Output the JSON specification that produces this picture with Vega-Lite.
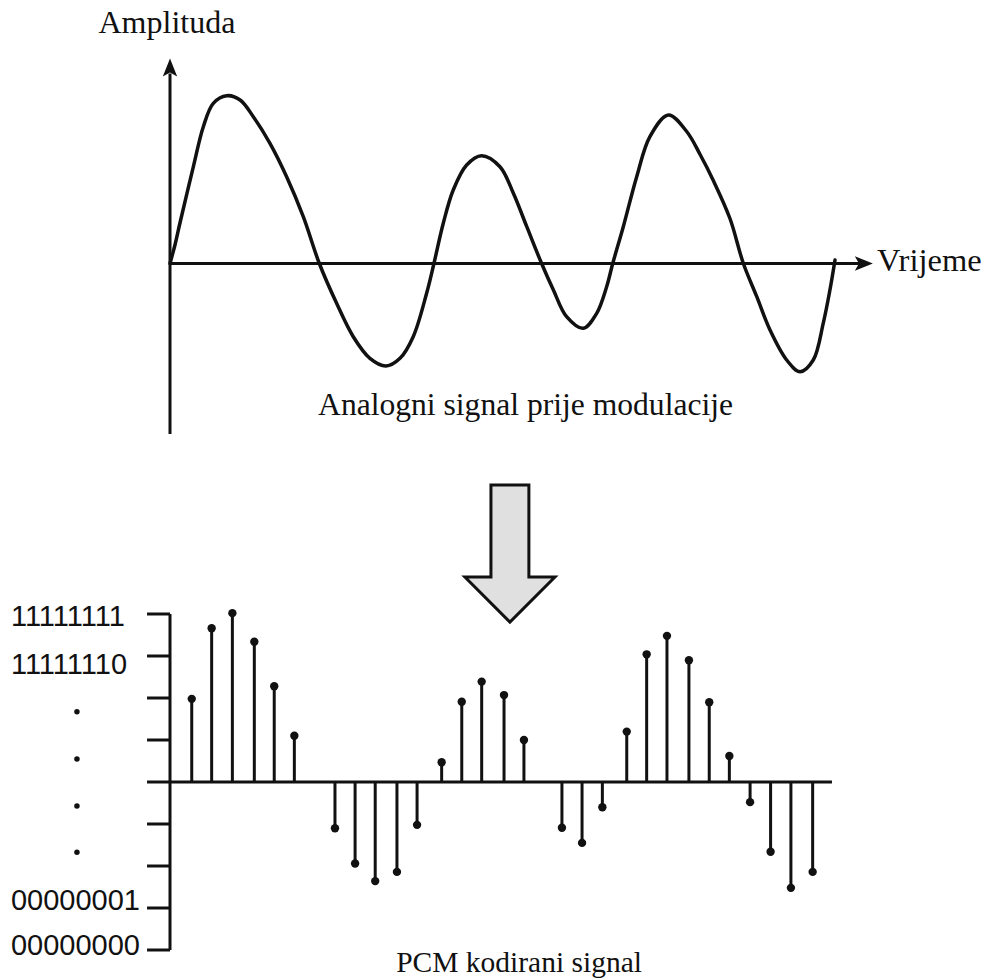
{
  "$schema": "https://vega.github.io/schema/vega-lite/v6.json",
  "autosize": {"type": "none"},
  "padding": {"left": 170, "top": 58, "right": 109, "bottom": 29},
  "width": 703,
  "height": 892,
  "background": "white",
  "config": {"view": {"stroke": null}},
  "datasets": {
    "analog": [
      {"t": 0, "a": 0}, {"t": 0.25, "a": 0.19}, {"t": 0.49, "a": 0.405}, {"t": 1.15, "a": 0.968}, {"t": 1.64, "a": 1.368},
      {"t": 2.13, "a": 1.602}, {"t": 2.79, "a": 1.678}, {"t": 3.45, "a": 1.635}, {"t": 4.10, "a": 1.468},
      {"t": 4.92, "a": 1.202}, {"t": 5.74, "a": 0.868}, {"t": 6.56, "a": 0.468}, {"t": 7.35, "a": 0},
      {"t": 8.20, "a": -0.398}, {"t": 9.02, "a": -0.732}, {"t": 9.84, "a": -0.948}, {"t": 10.63, "a": -1.025},
      {"t": 11.32, "a": -0.948}, {"t": 11.97, "a": -0.732}, {"t": 12.63, "a": -0.298}, {"t": 12.99, "a": 0},
      {"t": 13.45, "a": 0.402}, {"t": 13.94, "a": 0.735}, {"t": 14.60, "a": 0.985}, {"t": 15.33, "a": 1.078},
      {"t": 16.24, "a": 0.968}, {"t": 16.90, "a": 0.702}, {"t": 17.56, "a": 0.368}, {"t": 18.29, "a": 0},
      {"t": 18.87, "a": -0.265}, {"t": 19.52, "a": -0.532}, {"t": 20.34, "a": -0.648}, {"t": 21.00, "a": -0.498},
      {"t": 21.49, "a": -0.232}, {"t": 21.79, "a": 0}, {"t": 22.31, "a": 0.368}, {"t": 22.97, "a": 0.868},
      {"t": 23.62, "a": 1.268}, {"t": 24.53, "a": 1.485}, {"t": 25.43, "a": 1.32}, {"t": 26.09, "a": 1.09},
      {"t": 26.74, "a": 0.83}, {"t": 27.56, "a": 0.45}, {"t": 28.22, "a": 0}, {"t": 28.88, "a": -0.332},
      {"t": 29.53, "a": -0.665}, {"t": 30.35, "a": -0.965}, {"t": 31.01, "a": -1.082}, {"t": 31.66, "a": -0.965},
      {"t": 32.15, "a": -0.598}, {"t": 32.48, "a": -0.265}, {"t": 32.73, "a": 0.035}
    ],
    "pcm": [
      {"t": 1.07, "v": 1.98}, {"t": 2.05, "v": 3.66}, {"t": 3.07, "v": 4.02}, {"t": 4.15, "v": 3.34},
      {"t": 5.13, "v": 2.28}, {"t": 6.12, "v": 1.10}, {"t": 8.12, "v": -1.10}, {"t": 9.11, "v": -1.94},
      {"t": 10.10, "v": -2.36}, {"t": 11.17, "v": -2.14}, {"t": 12.16, "v": -1.02}, {"t": 13.37, "v": 0.47},
      {"t": 14.36, "v": 1.91}, {"t": 15.34, "v": 2.39}, {"t": 16.44, "v": 2.07}, {"t": 17.42, "v": 1.00},
      {"t": 19.29, "v": -1.09}, {"t": 20.28, "v": -1.45}, {"t": 21.28, "v": -0.60}, {"t": 22.48, "v": 1.20},
      {"t": 23.46, "v": 3.04}, {"t": 24.46, "v": 3.48}, {"t": 25.54, "v": 2.90}, {"t": 26.54, "v": 1.90},
      {"t": 27.53, "v": 0.62}, {"t": 28.55, "v": -0.48}, {"t": 29.56, "v": -1.66}, {"t": 30.56, "v": -2.52},
      {"t": 31.63, "v": -2.14}
    ],
    "ticks": [
      {"v": 4}, {"v": 3}, {"v": 2}, {"v": 1}, {"v": 0}, {"v": -1}, {"v": -2}, {"v": -3}, {"v": -4}
    ],
    "labels": [
      {"v": 3.92, "label": "11111111"},
      {"v": 2.78, "label": "11111110"},
      {"v": -2.83, "label": "00000001"},
      {"v": -3.9, "label": "00000000"}
    ],
    "dots": [
      {"v": 1.67}, {"v": 0.55}, {"v": -0.57}, {"v": -1.67}
    ],
    "one": [{}]
  },
  "resolve": {"scale": {"y": "independent"}},
  "layer": [
    {
      "layer": [
        {
          "data": {"name": "analog"},
          "mark": {"type": "line", "interpolate": "catmull-rom", "stroke": "#111", "strokeWidth": 3.5, "strokeCap": "round"},
          "encoding": {
            "x": {"field": "t", "type": "quantitative", "scale": {"domain": [0, 34.6], "nice": false, "zero": false}, "axis": null},
            "y": {"field": "a", "type": "quantitative", "scale": {"domain": [-6.865, 2.055], "nice": false, "zero": false}, "axis": null}
          }
        },
        {
          "data": {"name": "one"},
          "mark": {"type": "rule", "stroke": "#111", "strokeWidth": 3},
          "encoding": {
            "x": {"datum": 0, "type": "quantitative", "axis": null},
            "y": {"datum": -1.705, "type": "quantitative", "axis": null},
            "y2": {"datum": 1.90}
          }
        },
        {
          "data": {"name": "one"},
          "mark": {"type": "rule", "stroke": "#111", "strokeWidth": 3},
          "encoding": {
            "y": {"datum": 0, "type": "quantitative", "axis": null},
            "x": {"datum": 0, "type": "quantitative", "axis": null},
            "x2": {"datum": 33.96}
          }
        },
        {
          "data": {"name": "one"},
          "mark": {"type": "point", "shape": "M0,-1 L0.8,1 L0,0.55 L-0.8,1 Z", "size": 324, "filled": true, "fill": "#111", "stroke": null, "opacity": 1},
          "encoding": {
            "x": {"datum": 0, "type": "quantitative", "axis": null},
            "y": {"datum": 1.96, "type": "quantitative", "axis": null}
          }
        },
        {
          "data": {"name": "one"},
          "mark": {"type": "point", "shape": "M1,0 L-1,0.8 L-0.55,0 L-1,-0.8 Z", "size": 324, "filled": true, "fill": "#111", "stroke": null, "opacity": 1},
          "encoding": {
            "x": {"datum": 34.15, "type": "quantitative", "axis": null},
            "y": {"datum": 0, "type": "quantitative", "axis": null}
          }
        },
        {
          "data": {"name": "one"},
          "mark": {"type": "text", "text": "Amplituda", "font": "Liberation Serif", "fontSize": 32, "color": "#111", "align": "center", "baseline": "alphabetic"},
          "encoding": {
            "x": {"datum": -0.15, "type": "quantitative", "axis": null},
            "y": {"datum": 2.31, "type": "quantitative", "axis": null}
          }
        },
        {
          "data": {"name": "one"},
          "mark": {"type": "text", "text": "Vrijeme", "font": "Liberation Serif", "fontSize": 32.5, "color": "#111", "align": "left", "baseline": "alphabetic"},
          "encoding": {
            "x": {"datum": 34.8, "type": "quantitative", "axis": null},
            "y": {"datum": -0.07, "type": "quantitative", "axis": null}
          }
        },
        {
          "data": {"name": "one"},
          "mark": {"type": "text", "text": "Analogni signal prije modulacije", "font": "Liberation Serif", "fontSize": 31.6, "color": "#111", "align": "center", "baseline": "alphabetic"},
          "encoding": {
            "x": {"datum": 17.5, "type": "quantitative", "axis": null},
            "y": {"datum": -1.51, "type": "quantitative", "axis": null}
          }
        },
        {
          "data": {"name": "one"},
          "mark": {"type": "point", "shape": "M-0.271,-0.979 L0.271,-0.979 L0.271,0.336 L0.643,0.336 L0,0.979 L-0.643,0.336 L-0.271,0.336 Z", "size": 19600, "filled": true, "fill": "#e0e0e0", "stroke": "#111", "strokeWidth": 3, "opacity": 1},
          "encoding": {
            "x": {"datum": 16.73, "type": "quantitative", "axis": null},
            "y": {"datum": -2.90, "type": "quantitative", "axis": null}
          }
        }
      ]
    },
    {
      "layer": [
        {
          "data": {"name": "pcm"},
          "mark": {"type": "rule", "stroke": "#111", "strokeWidth": 3},
          "encoding": {
            "x": {"field": "t", "type": "quantitative", "scale": {"domain": [0, 34.6], "nice": false, "zero": false}, "axis": null},
            "y": {"field": "v", "type": "quantitative", "scale": {"domain": [-4, 17.238], "nice": false, "zero": false}, "axis": null},
            "y2": {"datum": 0}
          }
        },
        {
          "data": {"name": "pcm"},
          "mark": {"type": "circle", "size": 70, "fill": "#111", "opacity": 1},
          "encoding": {
            "x": {"field": "t", "type": "quantitative", "axis": null},
            "y": {"field": "v", "type": "quantitative", "axis": null}
          }
        },
        {
          "data": {"name": "one"},
          "mark": {"type": "rule", "stroke": "#111", "strokeWidth": 3},
          "encoding": {
            "x": {"datum": 0, "type": "quantitative", "axis": null},
            "y": {"datum": -4, "type": "quantitative", "axis": null},
            "y2": {"datum": 4}
          }
        },
        {
          "data": {"name": "one"},
          "mark": {"type": "rule", "stroke": "#111", "strokeWidth": 3},
          "encoding": {
            "y": {"datum": 0, "type": "quantitative", "axis": null},
            "x": {"datum": 0, "type": "quantitative", "axis": null},
            "x2": {"datum": 32.58}
          }
        },
        {
          "data": {"name": "ticks"},
          "mark": {"type": "rule", "stroke": "#111", "strokeWidth": 3},
          "encoding": {
            "y": {"field": "v", "type": "quantitative", "axis": null},
            "x": {"datum": -1.13, "type": "quantitative", "axis": null},
            "x2": {"datum": 0}
          }
        },
        {
          "data": {"name": "labels"},
          "mark": {"type": "text", "font": "Liberation Sans", "fontSize": 29, "color": "#111", "align": "left", "baseline": "middle"},
          "encoding": {
            "y": {"field": "v", "type": "quantitative", "axis": null},
            "x": {"datum": -7.83, "type": "quantitative", "axis": null},
            "text": {"field": "label", "type": "nominal"}
          }
        },
        {
          "data": {"name": "dots"},
          "mark": {"type": "circle", "size": 30, "fill": "#111", "opacity": 1},
          "encoding": {
            "y": {"field": "v", "type": "quantitative", "axis": null},
            "x": {"datum": -4.58, "type": "quantitative", "axis": null}
          }
        },
        {
          "data": {"name": "one"},
          "mark": {"type": "text", "text": "PCM kodirani signal", "font": "Liberation Serif", "fontSize": 29.5, "color": "#111", "align": "center", "baseline": "alphabetic"},
          "encoding": {
            "x": {"datum": 17.18, "type": "quantitative", "axis": null},
            "y": {"datum": -4.53, "type": "quantitative", "axis": null}
          }
        }
      ]
    }
  ]
}
